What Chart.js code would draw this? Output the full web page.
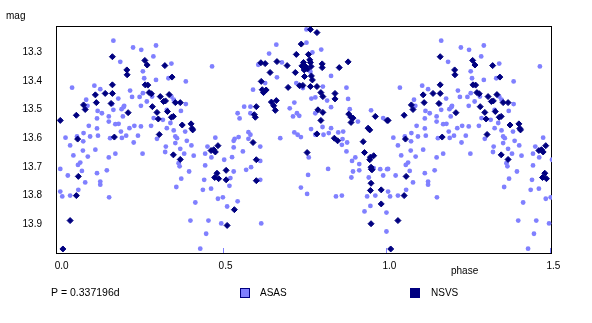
<!DOCTYPE html>
<html>
<head>
<meta charset="utf-8">
<script src="https://cdn.jsdelivr.net/npm/chart.js@4.4.0/dist/chart.umd.min.js"></script>
<style>
  html, body { margin: 0; padding: 0; background: #fff; }
  #graph { display: block; }
</style>
</head>
<body>
<canvas id="graph" width="592" height="323"></canvas>
<script>
// phase / magnitude (one cycle, 0..1)
const asasPhase = [
  0.164,0.224,0.249,0.294,0.286,0.185,0.341,0.254,0.258,0.294,
  0.332,0.385,0.038,0.106,0.124,0.215,0.221,0.244,0.254,0.266,
  0.282,0.341,0.348,0.081,0.085,0.160,0.179,0.195,0.189,0.197,
  0.248,0.116,0.164,0.129,0.193,0.114,0.150,0.150,0.170,0.180,
  0.187,0.089,0.114,0.073,0.093,0.117,0.228,0.213,0.248,0.279,
  0.287,0.315,0.338,0.327,0.348,0.353,0.383,0.327,0.370,0.385,
  0.018,0.053,0.032,0.042,0.072,0.071,0.086,0.109,0.063,0.056,
  0.068,0.002,0.025,0.078,0.114,0.124,0.124,0.144,0.150,0.170,
  0.190,0.203,0.226,0.239,0.253,0.154,0.002,0.008,0.032,0.057,
  0.151,0.297,0.324,0.322,0.353,0.358,0.368,0.380,0.388,0.402,
  0.409,0.363,0.366,0.371,0.356,0.395,0.414,0.399,0.429,0.753,
  0.661,0.753,0.639,0.798,0.771,0.465,0.606,0.678,0.765,0.828,
  0.663,0.627,0.722,0.803,0.875,0.590,0.742,0.768,0.780,0.816,
  0.880,0.716,0.828,0.563,0.582,0.702,0.724,0.731,0.712,0.780,
  0.543,0.549,0.582,0.885,0.950,0.910,0.767,0.802,0.828,0.850,
  0.865,0.716,0.726,0.736,0.576,0.475,0.534,0.673,0.582,0.546,
  0.531,0.576,0.780,0.805,0.821,0.863,0.877,0.861,0.451,0.444,
  0.531,0.559,0.526,0.502,0.463,0.444,0.612,0.612,0.584,0.569,
  0.531,0.441,0.521,0.518,0.612,0.462,0.437,0.498,0.483,0.543,
  0.511,0.454,0.493,0.615,0.447,0.760,0.758,0.736,0.755,0.819,
  0.875,0.892,0.895,0.902,0.914,0.914,0.890,0.843,0.861,0.930,
  0.948,0.938,0.963,0.943,0.958,0.987,0.978,0.999,0.987,0.997,0.997
];
const asasMag = [
  13.26,13.284,13.292,13.277,13.315,13.334,13.34,13.367,13.391,13.397,
  13.391,13.402,13.424,13.417,13.429,13.434,13.456,13.456,13.443,13.472,
  13.455,13.455,13.466,13.466,13.487,13.481,13.462,13.492,13.499,13.487,
  13.487,13.505,13.501,13.513,13.524,13.531,13.524,13.542,13.551,13.55,
  13.577,13.557,13.566,13.582,13.594,13.591,13.557,13.565,13.559,13.557,
  13.53,13.536,13.547,13.565,13.573,13.594,13.577,13.501,13.505,13.481,
  13.598,13.594,13.625,13.66,13.611,13.643,13.664,13.64,13.685,13.693,
  13.714,13.707,13.73,13.754,13.722,13.751,13.762,13.712,13.667,13.654,
  13.599,13.591,13.615,13.591,13.654,13.60,13.786,13.803,13.80,13.78,
  13.806,13.602,13.629,13.648,13.617,13.60,13.637,13.654,13.609,13.625,
  13.661,13.687,13.698,13.741,13.77,13.716,13.824,13.887,13.985,13.221,
  13.274,13.267,13.305,13.291,13.301,13.35,13.344,13.336,13.368,13.383,
  13.388,13.408,13.408,13.42,13.424,13.431,13.425,13.462,13.458,13.469,
  13.463,13.476,13.492,13.49,13.49,13.496,13.513,13.522,13.524,13.513,
  13.513,13.531,13.513,13.499,13.503,13.542,13.568,13.561,13.565,13.58,
  13.577,13.58,13.588,13.596,13.579,13.598,13.602,13.60,13.588,13.596,
  13.609,13.602,13.588,13.588,13.582,13.603,13.615,13.623,13.629,13.654,
  13.632,13.646,13.666,13.675,13.667,13.695,13.629,13.679,13.701,13.71,
  13.716,13.745,13.739,13.766,13.745,13.776,13.78,13.806,13.811,13.82,
  13.838,13.887,13.897,13.897,13.933,13.667,13.728,13.772,13.794,13.707,
  13.646,13.679,13.716,13.667,13.69,13.712,13.737,13.803,13.80,13.855,
  13.836,13.803,13.80,13.737,13.704,13.53,13.708,13.708,13.73,13.859,13.925
];

const nsvsPhase = [
  0.002,0.051,0.073,0.078,0.109,0.112,0.139,0.161,0.161,0.161,
  0.157,0.205,0.206,0.209,0.260,0.267,0.261,0.269,0.273,0.280,
  0.283,0.297,0.301,0.307,0.321,0.317,0.323,0.329,0.334,0.343,
  0.341,0.347,0.353,0.368,0.374,0.401,0.404,0.055,0.057,0.051,
  0.032,0.010,0.167,0.304,0.347,0.368,0.406,
  0.765,0.785,0.737,0.722,0.759,0.763,0.765,0.744,0.739,0.750,
  0.756,0.767,0.746,0.719,0.747,0.768,0.771,0.801,0.801,0.853,
  0.880,0.694,0.663,0.614,0.627,0.642,0.615,0.618,0.622,0.630,
  0.697,0.732,0.742,0.765,0.785,0.797,0.803,0.840,0.840,0.646,
  0.653,0.661,0.658,0.600,0.594,0.597,0.788,0.803,0.797,0.785,
  0.838,0.882,0.889,0.895,0.889,0.963,0.941,0.946,
  0.483,0.470,0.462,0.475,0.480,0.473,0.485,0.508,0.508,0.533,
  0.511,0.590,0.600,0.600,0.755,0.848,0.926,0.930,0.948,0.946,
  0.950,0.953,0.950,0.948,0.950,0.958,0.951,0.981,0.981,0.999
];
const nsvsMag = [
  13.538,13.52,13.484,13.50,13.449,13.476,13.444,13.444,13.414,13.316,
  13.479,13.362,13.379,13.511,13.329,13.345,13.414,13.415,13.441,13.445,
  13.49,13.51,13.533,13.455,13.347,13.472,13.47,13.507,13.448,13.387,
  13.527,13.524,13.476,13.476,13.554,13.55,13.566,13.603,13.733,13.80,
  13.887,13.986,13.596,13.587,13.658,13.674,13.571,
  13.221,13.232,13.272,13.308,13.308,13.327,13.336,13.336,13.348,13.35,
  13.359,13.35,13.362,13.371,13.385,13.383,13.397,13.341,13.354,13.354,
  13.334,13.347,13.333,13.337,13.34,13.371,13.402,13.431,13.441,13.432,
  13.423,13.417,13.416,13.42,13.42,13.441,13.455,13.444,13.463,13.474,
  13.487,13.469,13.503,13.49,13.518,13.527,13.501,13.51,13.538,13.585,
  13.60,13.516,13.527,13.53,13.545,13.524,13.565,13.571,
  13.626,13.64,13.643,13.648,13.722,13.737,13.741,13.712,13.745,13.849,
  13.904,13.615,13.675,13.748,13.65,13.609,13.612,13.65,13.666,13.675,
  13.701,13.71,13.757,13.782,13.898,13.661,13.708,13.78,13.829,13.538
];

const xTicks = [0, 0.5, 1.0, 1.5];
const yTicks = [13.3, 13.4, 13.5, 13.6, 13.7, 13.8, 13.9];
const periodText = 'P = 0.337196d';

const FONT = "'Liberation Sans', Arial, sans-serif";
const xMin = -0.008, xMax = 1.502;

// phase diagram shows 1.5 cycles: the first half cycle is shown again after phase 1
function fold(phase, mag) {
  var pts = [];
  for (let i = 0; i < phase.length; i++) {
    pts.push({x: phase[i], y: mag[i]});
    if (phase[i] + 1 <= xMax) pts.push({x: phase[i] + 1, y: mag[i]});
  }
  return pts;
}

const decor = {
  id: 'decor',
  beforeDatasetsDraw(chart) {
    const c = chart.ctx, a = chart.chartArea;
    c.save();
    c.strokeStyle = '#000';
    c.lineWidth = 1;
    c.strokeRect(Math.round(a.left) - 0.5, Math.round(a.top) + 0.5,
                 Math.round(a.right - a.left), Math.round(a.bottom - a.top));
    c.restore();
  },
  afterDraw(chart) {
    const c = chart.ctx, a = chart.chartArea;
    const xs = chart.scales.x;
    c.save();
    // small ticks on the phase axis
    c.strokeStyle = '#8080ff';
    c.lineWidth = 1;
    xTicks.forEach(v => {
      if (v === 0) return;
      const px = Math.round(xs.getPixelForValue(v)) - 0.5;
      c.beginPath();
      c.moveTo(px, a.bottom - 5);
      c.lineTo(px, a.bottom);
      c.stroke();
    });

    c.fillStyle = '#000';
    c.textBaseline = 'middle';
    c.textAlign = 'left';
    c.font = '10px ' + FONT;
    c.fillText('mag', 6, 16);
    c.fillText('phase', 451, 271);
    c.font = '10.5px ' + FONT;
    c.fillText(periodText, 51, 293);

    // legend
    const ds = chart.data.datasets;
    const boxes = [{x: 240, tx: 260}, {x: 410, tx: 431}];
    ds.forEach((d, i) => {
      const b = boxes[i];
      c.fillStyle = d.backgroundColor;
      c.fillRect(b.x, 288, 10, 10);
      c.strokeStyle = '#000080';
      c.strokeRect(b.x + 0.5, 288.5, 9, 9);
      c.fillStyle = '#000';
      c.font = '10px ' + FONT;
      c.fillText(d.label, b.tx, 293);
    });
    c.restore();
  }
};

const ctx = document.getElementById('graph');

var graph = new Chart(ctx, {
  type: 'scatter',
  data: {
    datasets: [{
      label: 'ASAS',
      data: fold(asasPhase, asasMag),
      pointStyle: 'circle',
      pointRadius: 2.4,
      pointBorderWidth: 0,
      backgroundColor: '#8080ff',
      borderColor: '#8080ff',
      order: 2
    }, {
      label: 'NSVS',
      data: fold(nsvsPhase, nsvsMag),
      pointStyle: 'rectRot',
      pointRadius: 3,
      pointBorderWidth: 1,
      backgroundColor: '#000080',
      borderColor: '#000080',
      order: 1
    }]
  },
  options: {
    responsive: false,
    animation: false,
    events: [],
    layout: { padding: { left: 0, top: 26, right: 40, bottom: 48 } },
    plugins: {
      legend: { display: false },
      tooltip: { enabled: false }
    },
    scales: {
      x: {
        type: 'linear',
        min: xMin,
        max: xMax,
        grid: { display: false, drawTicks: false },
        border: { display: false },
        ticks: {
          padding: 7,
          labelOffset: 2,
          color: '#000',
          font: { family: FONT, size: 10 },
          maxRotation: 0,
          callback: v => v.toFixed(1)
        },
        afterBuildTicks: s => { s.ticks = xTicks.map(v => ({ value: v })); },
        afterFit: s => { s.height = 22; }
      },
      y: {
        type: 'linear',
        reverse: true,
        min: 13.209,
        max: 14.0,
        grid: { display: false, drawTicks: false },
        border: { display: false },
        ticks: {
          padding: 15,
          color: '#000',
          font: { family: FONT, size: 10 },
          callback: v => v.toFixed(1)
        },
        afterBuildTicks: s => { s.ticks = yTicks.map(v => ({ value: v })); },
        afterFit: s => { s.width = 57; }
      }
    }
  },
  plugins: [decor]
});
</script>
</body>
</html>
